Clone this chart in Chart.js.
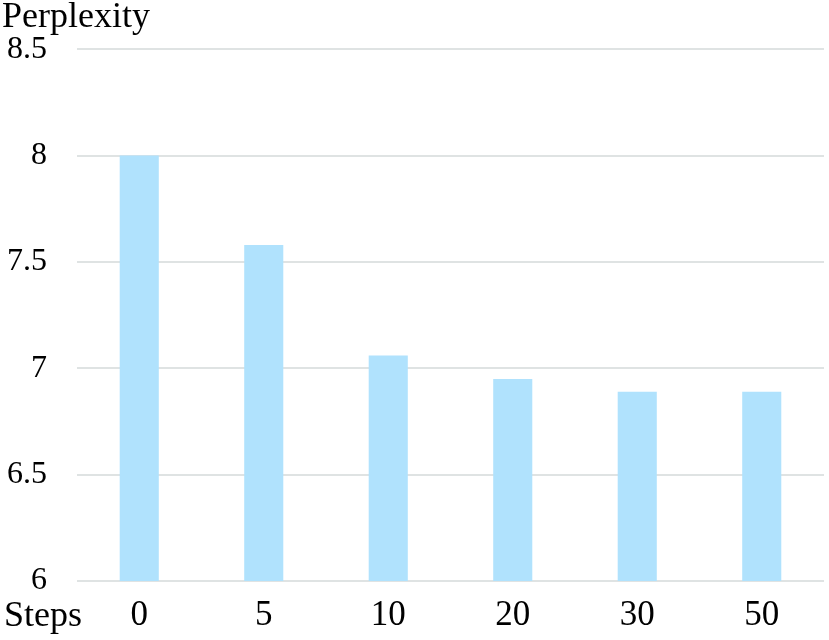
<!DOCTYPE html>
<html>
<head>
<meta charset="utf-8">
<script src="https://cdn.jsdelivr.net/npm/chart.js@4/dist/chart.umd.min.js"></script>
<style>
html,body{margin:0;padding:0;background:#fff;}
#wrap{width:829px;height:640px;position:relative;}
</style>
</head>
<body>
<div id="wrap"><canvas id="c" width="829" height="640"></canvas></div>
<script>
const categories = ['0', '5', '10', '20', '30', '50'];
const perplexity = [8.0, 7.58, 7.06, 6.95, 6.89, 6.89];
const yTicks = [6, 6.5, 7, 7.5, 8, 8.5];
const yTitle = 'Perplexity';
const xTitle = 'Steps';

const FONT = '"Liberation Serif", "Times New Roman", serif';

const labelsPlugin = {
  id: 'cornerLabels',
  afterDraw(chart) {
    const ctx = chart.ctx;
    ctx.save();
    ctx.fillStyle = '#000';
    ctx.font = '36px ' + FONT;
    ctx.textAlign = 'left';
    ctx.textBaseline = 'alphabetic';
    ctx.fillText(yTitle, 2, 27);
    ctx.fillText(xTitle, 4, 626);
    ctx.restore();
  }
};

new Chart(document.getElementById('c'), {
  type: 'bar',
  data: {
    labels: categories,
    datasets: [{
      data: perplexity,
      backgroundColor: '#b0e2fd',
      borderWidth: 0,
      categoryPercentage: 1.0,
      barPercentage: 0.314
    }]
  },
  options: {
    responsive: false,
    animation: false,
    devicePixelRatio: 1,
    layout: { padding: { top: 49, right: 5, left: 0, bottom: 0 } },
    plugins: { legend: { display: false }, tooltip: { enabled: false }, title: { display: false } },
    scales: {
      x: {
        grid: { display: false, drawTicks: false },
        border: { display: false },
        ticks: {
          color: '#000',
          font: { family: FONT, size: 35 },
          padding: 14,
          maxRotation: 0
        },
        afterFit(scale) { scale.height = 59; }
      },
      y: {
        min: 6,
        max: 8.5,
        afterBuildTicks(scale) { scale.ticks = yTicks.map(v => ({ value: v })); },
        grid: { color: '#dfe3e3', lineWidth: 2, drawTicks: false },
        border: { display: false },
        ticks: {
          color: '#000',
          font: { family: FONT, size: 32 },
          padding: 30,
          callback: v => String(v)
        },
        afterFit(scale) { scale.width = 77; }
      }
    }
  },
  plugins: [labelsPlugin]
});
</script>
</body>
</html>
